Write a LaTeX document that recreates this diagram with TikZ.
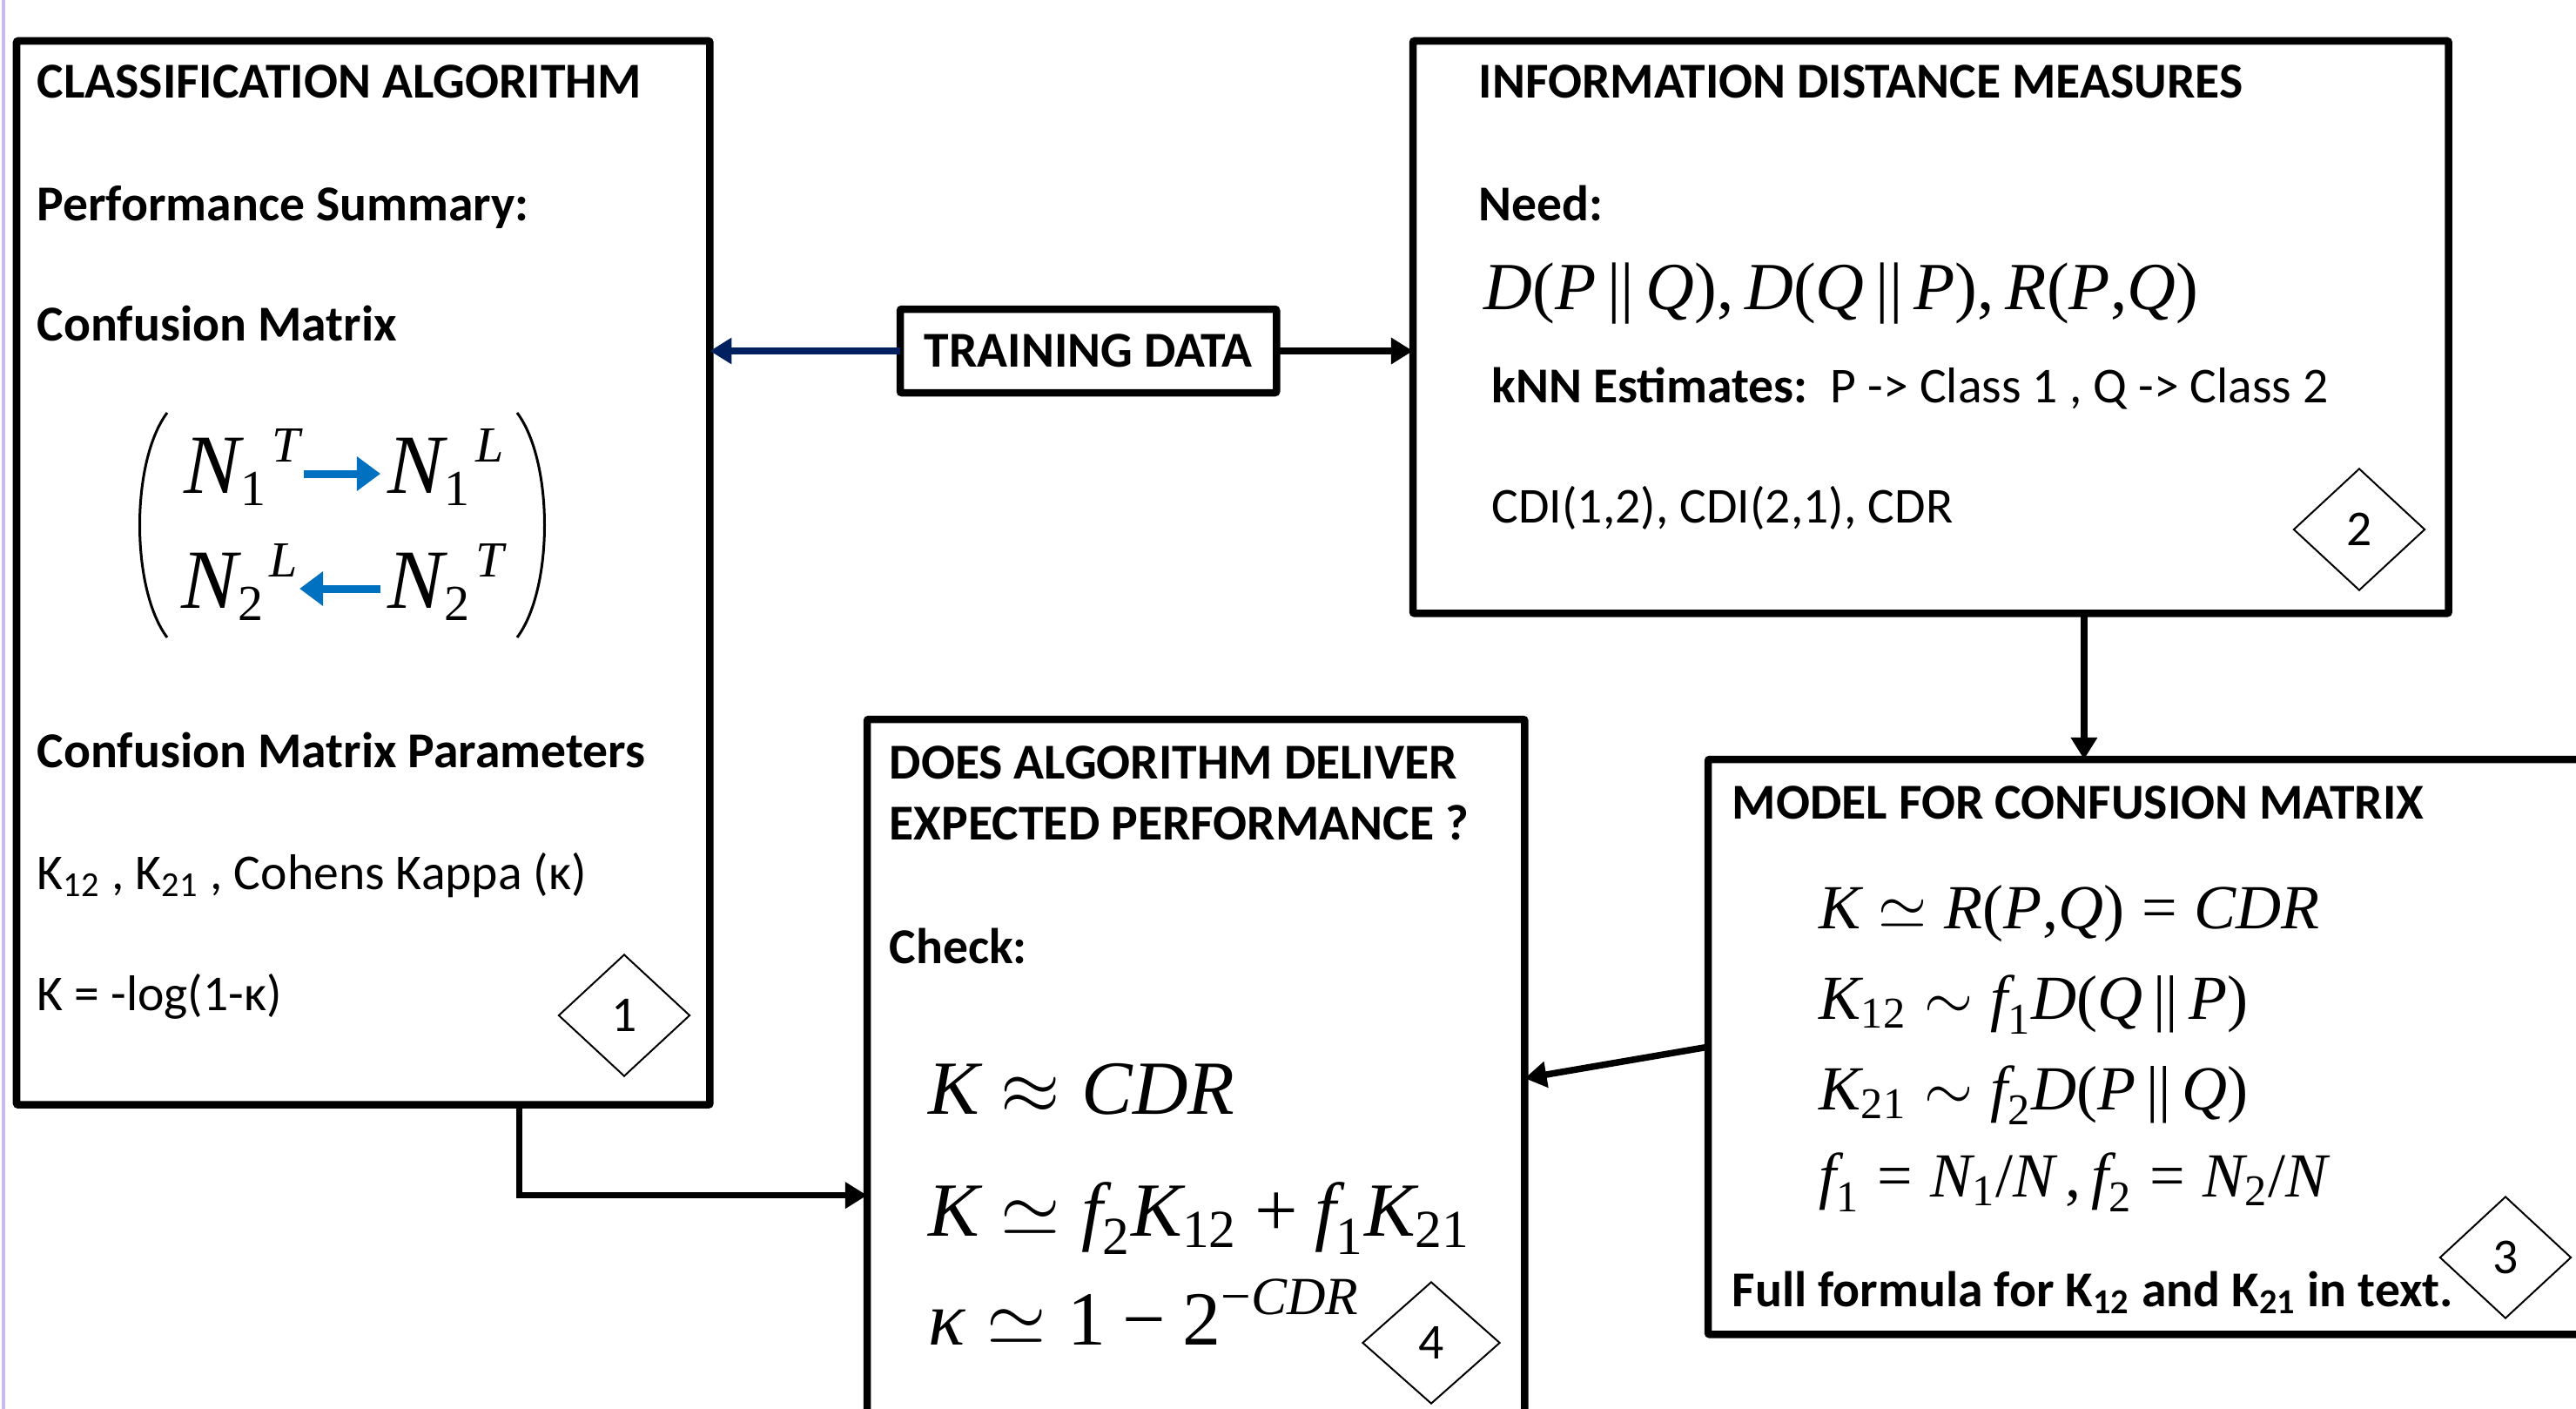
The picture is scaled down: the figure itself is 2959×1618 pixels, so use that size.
\RequirePackage{fix-cm}
\documentclass[tikz,border=0pt]{standalone}
\usepackage{amsmath}
\usepackage[no-math]{fontspec}
\setmainfont{Carlito}
\newfontfamily\tms{Liberation Serif}
\usetikzlibrary{arrows.meta,shapes.geometric,calc}
\newcommand\mi[1]{\text{\tms\itshape #1}}
\newcommand\mr[1]{\text{\tms #1}}
\newcommand\smr[1]{\text{\fontsize{16.5}{17}\selectfont\tms #1}}
\newcommand\smi[1]{\text{\fontsize{16.5}{17}\selectfont\tms\itshape #1}}
\newcommand\nent[3]{\mi{N}_{\smr{#1}}\mkern1mu{}^{\smi{#2}}}
\definecolor{mblue}{HTML}{0070C0}
\definecolor{navy}{HTML}{002060}
\definecolor{lav}{HTML}{C9B8F2}
\tikzset{
  box/.style={draw, line width=0.085cm, rounded corners=0.02cm, inner sep=0, outer sep=0, anchor=north west},
  txt/.style={anchor=base west, inner sep=0, font=\fontsize{16.4}{20}\selectfont},
  bt/.style={anchor=base west, inner sep=0, font=\fontsize{16.4}{20}\selectfont\bfseries},
  mx/.style={anchor=base west, inner sep=0, font=\fontsize{27.5}{32}\selectfont},
  mtwo/.style={anchor=base west, inner sep=0, font=\fontsize{22}{28}\selectfont},
  mthree/.style={anchor=base west, inner sep=0, font=\fontsize{20.5}{25}\selectfont},
  mfour/.style={anchor=base west, inner sep=0, font=\fontsize{25}{30}\selectfont},
  dia/.style={draw, diamond, line width=0.02cm, inner sep=0, minimum width=1.51cm, minimum height=1.40cm, font=\fontsize{16.4}{20}\selectfont},
  arr/.style={line width=0.075cm, -{Triangle[length=0.25cm,width=0.29cm]}},
  narr/.style={arr, draw=navy},
  barr/.style={draw=mblue, line width=0.09cm, -{Triangle[length=0.27cm,width=0.38cm]}}
}
\begin{document}
\begin{tikzpicture}[x=0.01cm,y=-0.01cm]
\useasboundingbox (0,0) rectangle (2959,1618);
\clip (0,0) rectangle (2959,1618);
\fill[white] (0,0) rectangle (2959,1618);
\draw[draw=lav, line width=0.03cm] (4,0) -- (4,1618);

% boxes
\node[box, minimum width=7.96cm, minimum height=12.21cm] (b1) at (19,47) {};
\node[box, minimum width=4.32cm, minimum height=0.96cm, anchor=north west, font=\fontsize{16.4}{20}\selectfont\bfseries] (td) at (1034,355) {TRAINING DATA};
\node[box, minimum width=11.89cm, minimum height=6.57cm] (b2) at (1623,47) {};
\node[box, minimum width=10.38cm, minimum height=6.60cm] (b3) at (1962,872) {};
\node[box, minimum width=7.55cm, minimum height=8.24cm] (b4) at (996,826) {};

% box 1
\node[bt] (t1a) at (42,113) {CLASSIFICATION ALGORITHM};
\node[bt] (t1b) at (42,253) {Performance Summary:};
\node[bt] (t1c) at (42,391) {Confusion Matrix};
\node[mx] (n1t) at (211,566) {$\nent{1}{T}{}$};
\node[mx] (n1l) at (445,566) {$\nent{1}{L}{}$};
\node[mx] (n2l) at (208,698) {$\nent{2}{L}{}$};
\node[mx] (n2t) at (445,698) {$\nent{2}{T}{}$};
\draw[line width=0.03cm] (192,474) .. controls (150,530) and (150,676) .. (192,732);
\draw[line width=0.03cm] (594,474) .. controls (636,530) and (636,676) .. (594,732);
\draw[barr] ($(n1t.base east)+(2,-22)$) -- ($(n1l.base west)+(-8,-22)$);
\draw[barr] ($(n2t.base west)+(-8,-22)$) -- ($(n2l.base east)+(0,-22)$);
\node[bt] (t1d) at (42,881) {Confusion Matrix Parameters};
\node[txt] (t1e) at (42,1021) {K\textsubscript{12} , K\textsubscript{21} , Cohens Kappa (κ)};
\node[txt] (t1f) at (42,1160) {K = -log(1-κ)};
\node[dia] (d1) at (717,1166) {1};

% box 2
\node[bt] (t2a) at (1698,113) {INFORMATION DISTANCE MEASURES};
\node[bt] (t2b) at (1698,253) {Need:};
\node[mtwo] (t2c) at (1704,355) {{\tms\textit{D}(\textit{P}\,||\,\textit{Q}),\,\textit{D}(\textit{Q}\,||\,\textit{P}),\,\textit{R}(\textit{P},\textit{Q})}};
\node[txt] (t2d) at (1713,462) {\textbf{kNN Estimates:}\ \ P -> Class 1 , Q -> Class 2};
\node[txt] (t2e) at (1713,600) {CDI(1,2), CDI(2,1), CDR};
\node[dia] (d2) at (2710,608) {2};

% box 3
\node[bt] (t3a) at (1989,940) {MODEL FOR CONFUSION MATRIX};
\node[mthree] (t3b) at (2089,1066) {$\mi{K}\simeq\mi{R}\mr{(}\mi{P}\mr{,}\mi{Q}\mr{)}\mathrel{\mr{=}}\mi{CDR}$};
\node[mthree] (t3c) at (2089,1170) {$\mi{K}_{\mr{12}}\sim\mi{f}_{\mr{1}}\mi{D}\mr{(}\mi{Q}\,\mr{||}\,\mi{P}\mr{)}$};
\node[mthree] (t3d) at (2089,1274) {$\mi{K}_{\mr{21}}\sim\mi{f}_{\mr{2}}\mi{D}\mr{(}\mi{P}\,\mr{||}\,\mi{Q}\mr{)}$};
\node[mthree] (t3e) at (2089,1374) {$\mi{f}_{\mr{1}}\mathrel{\mr{=}}\mi{N}_{\mr{1}}\mr{/}\mi{N}\mr{\,,}\,\mi{f}_{\mr{2}}\mathrel{\mr{=}}\mi{N}_{\mr{2}}\mr{/}\mi{N}$};
\node[bt] (t3f) at (1989,1500) {Full formula for K\textsubscript{12} and K\textsubscript{21} in text.};
\node[dia] (d3) at (2878,1444) {3};

% box 4
\node[bt] (t4a) at (1021,894) {DOES ALGORITHM DELIVER};
\node[bt] (t4b) at (1021,964) {EXPECTED PERFORMANCE ?};
\node[bt] (t4c) at (1021,1106) {Check:};
\node[mfour] (t4d) at (1066,1279) {$\mi{K}\approx\mi{CDR}$};
\node[mfour] (t4e) at (1066,1419) {$\mi{K}\simeq\mi{f}_{\mr{2}}\mi{K}_{\mr{12}}\mathbin{\mr{+}}\mi{f}_{\mr{1}}\mi{K}_{\mr{21}}$};
\node[mfour] (t4f) at (1066,1544) {$\mi{κ}\simeq\mr{1}\mathbin{\mr{−}}\mr{2}^{\mr{−}\mi{CDR}}$};
\node[dia, minimum width=1.58cm] (d4) at (1644,1542) {4};

% connectors
\coordinate (a23) at ($(b2.south west)!0.648!(b2.south east)$);
\coordinate (a14) at ($(b1.south west)!0.725!(b1.south east)$);
\coordinate (e14) at ($(b4.north west)!0.663!(b4.south west)$);
\draw[narr] (td.west) -- (td.west -| b1.east);
\draw[arr] (td.east) -- (td.east -| b2.west);
\draw[arr] (a23) -- (a23 |- b3.north);
\draw[arr] (b3.west) -- (b4.east);
\draw[arr] (a14) |- (e14);
\end{tikzpicture}
\end{document}
